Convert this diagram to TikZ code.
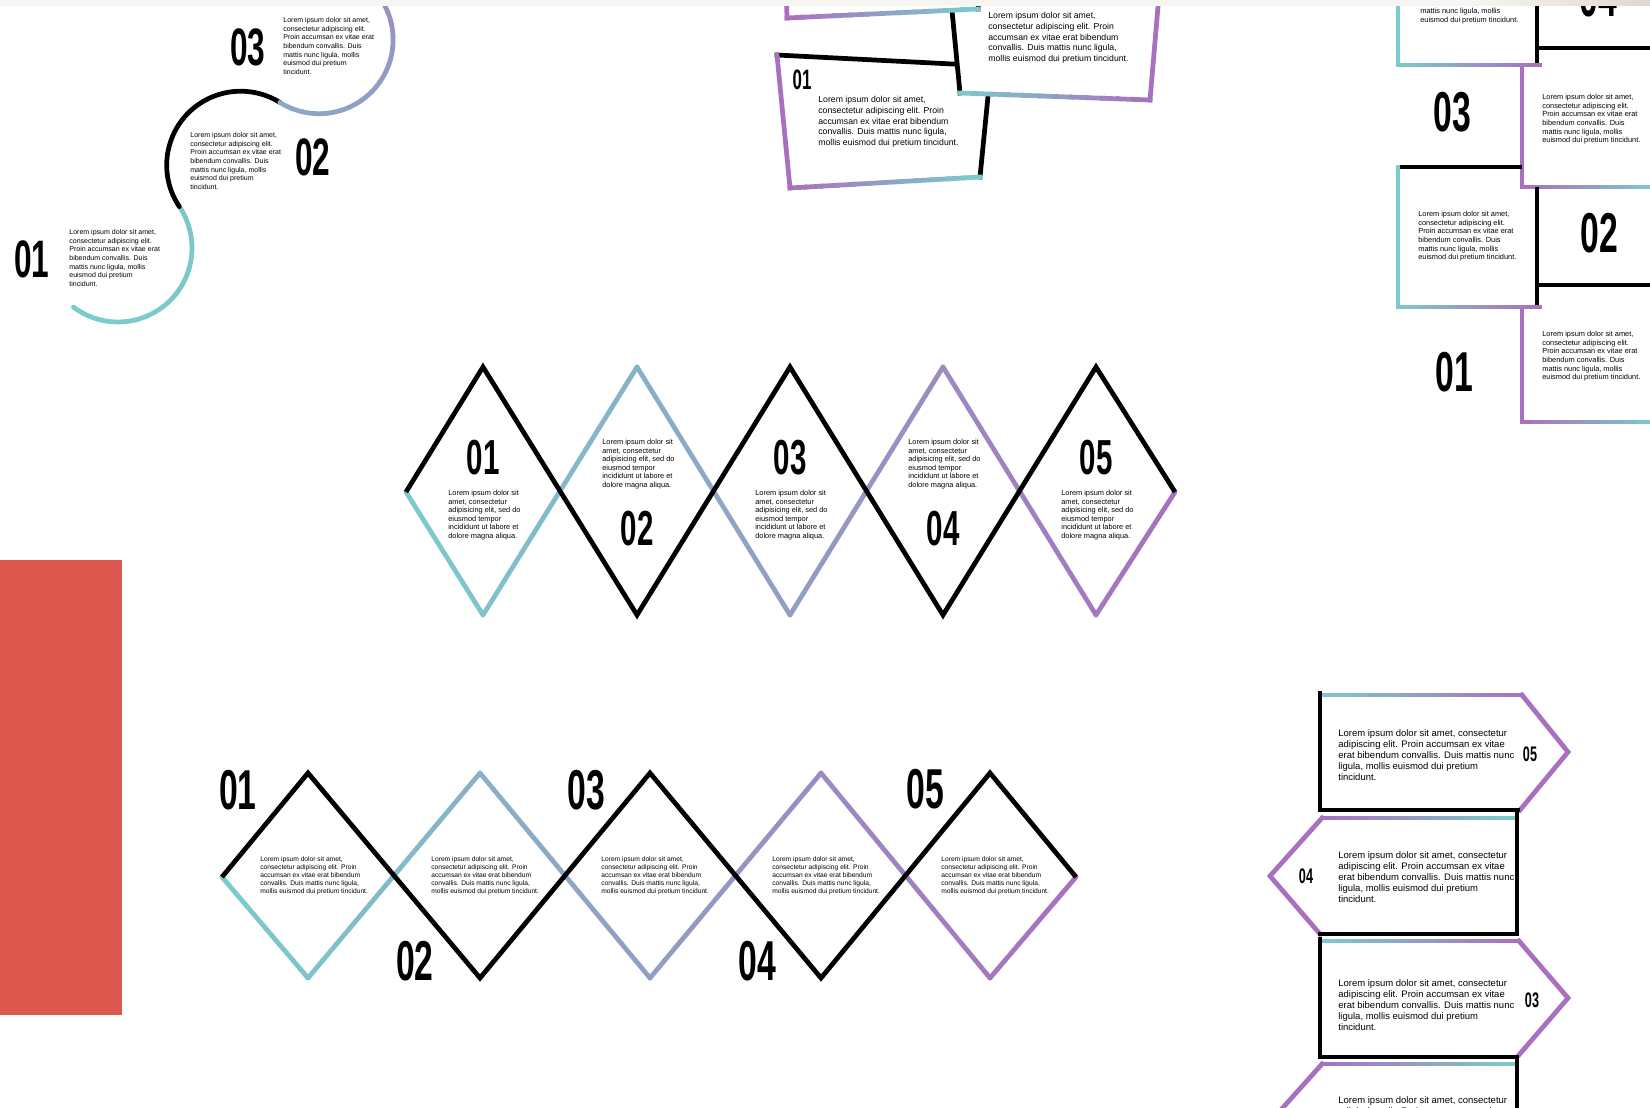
\documentclass[tikz,border=0pt]{standalone}
\usepackage{fontspec}
\setmainfont{Liberation Sans}
\newfontfamily\numfont{Liberation Sans}[FakeStretch=0.6]
\usepackage{tikz}
\definecolor{tealc}{RGB}{122,205,204}
\definecolor{purplec}{RGB}{168,112,190}
\definecolor{redblock}{RGB}{220,88,78}
\definecolor{topband}{RGB}{247,245,241}
\definecolor{taupe}{RGB}{224,216,204}
\tikzset{
  blackpen/.style={line width=2.7pt, black, line join=miter},
  boxpen/.style={line width=2.7pt, black, line cap=rect, line join=miter},
  gradpen/.style={line width=2.7pt, line cap=rect},
  num/.style={font=\numfont\bfseries\fontsize{#1pt}{#1pt}\selectfont, inner sep=0pt},
  lorem/.style={inner sep=0pt, align=left, anchor=north west},
  arctext/.style={lorem, font=\fontsize{4}{4.95}\selectfont},
  midtext/.style={lorem, font=\fontsize{4.2}{4.85}\selectfont},
  lowtext/.style={lorem, font=\fontsize{3.8}{4.55}\selectfont},
  cardtext/.style={lorem, font=\fontsize{4.95}{6.1}\selectfont},
  stacktext/.style={lorem, font=\fontsize{4.2}{4.9}\selectfont},
  arrowtext/.style={lorem, font=\fontsize{5.4}{6.3}\selectfont}
}
% straight stroke, teal share #6 -> #7
\newcommand\gradline[7][]{%
  \foreach \i in {1,...,12}{
    \pgfmathsetmacro\ta{(\i-1)/12}
    \pgfmathsetmacro\tb{\i/12}
    \pgfmathtruncatemacro\pc{#6+(#7-#6)*(\i-0.5)/12}
    \draw[gradpen,#1,draw=tealc!\pc!purplec]
      ({#2+(#4-#2)*\ta},{#3+(#5-#3)*\ta}) -- ({#2+(#4-#2)*\tb},{#3+(#5-#3)*\tb});
  }}
% arc stroke around (#2,#3), radius #4, angles #5 -> #6, teal share #7 -> #8
\newcommand\gradarc[8][]{%
  \foreach \i in {1,...,16}{
    \pgfmathsetmacro\aa{#5+(#6-#5)*(\i-1)/16}
    \pgfmathsetmacro\ab{#5+(#6-#5)*\i/16}
    \pgfmathtruncatemacro\pc{#7+(#8-#7)*(\i-0.5)/16}
    \draw[gradpen,#1,draw=tealc!\pc!purplec]
      ({#2+#4*cos(\aa)},{#3+#4*sin(\aa)}) arc[start angle=\aa, end angle=\ab, radius=#4];
  }}
\newcommand\txtarc{Lorem ipsum dolor sit amet,\\consectetur adipiscing elit.\\Proin accumsan ex vitae erat\\bibendum convallis. Duis\\mattis nunc ligula, mollis\\euismod dui pretium\\tincidunt.}
\newcommand\txtmid{Lorem ipsum dolor sit\\amet, consectetur\\adipisicing elit, sed do\\eiusmod tempor\\incididunt ut labore et\\dolore magna aliqua.}
\newcommand\txtwide{Lorem ipsum dolor sit amet,\\consectetur adipiscing elit. Proin\\accumsan ex vitae erat bibendum\\convallis. Duis mattis nunc ligula,\\mollis euismod dui pretium tincidunt.}
\newcommand\txtstack{Lorem ipsum dolor sit amet,\\consectetur adipiscing elit.\\Proin accumsan ex vitae erat\\bibendum convallis. Duis\\mattis nunc ligula, mollis\\euismod dui pretium tincidunt.}
\newcommand\txtarrow{Lorem ipsum dolor sit amet, consectetur\\adipiscing elit. Proin accumsan ex vitae\\erat bibendum convallis. Duis mattis nunc\\ligula, mollis euismod dui pretium\\tincidunt.}
\begin{document}
\begin{tikzpicture}[x=0.02cm, y=-0.02cm]
\useasboundingbox (0,0) rectangle (1650,1108);
\clip (0,0) rectangle (1650,1108);
\fill[white] (0,0) rectangle (1650,1108);
\fill[redblock] (0,560) rectangle (122,1015);

% S-curve
\gradarc[line cap=round]{118}{248}{74}{127}{-34}{100}{94}
\draw[blackpen, line cap=round] ({240.7+74*cos(146)},{165.2+74*sin(146)}) arc[start angle=146, end angle=302, radius=74];
\gradarc[line cap=round]{319.1}{39.7}{74}{122}{-32}{62}{36}
\node[num=30] (arcnum1) at (32,259) {01};
\node[num=30] (arcnum2) at (313,157) {02};
\node[num=30] (arcnum3) at (248,47) {03};
\node[arctext] (arctxt1) at (69,229) {\txtarc};
\node[arctext] (arctxt2) at (190,132) {\txtarc};
\node[arctext] (arctxt3) at (283,17) {\txtarc};

% tilted cards
\fill[white] (777,55) -- (991,66) -- (980,177) -- (790,188) -- cycle;
\draw[boxpen] (777,55) -- (991,66) -- (980,177);
\gradline{790}{188}{980}{177}{0}{100}
\draw[boxpen, purplec] (777,55) -- (790,188);
\node[num=16] (cardnum1) at (802,80) {01};
\node[cardtext] (cardtxt1) at (818,96) {\txtwide};
\fill[white] (950,-10) -- (1159,-5) -- (1150,100) -- (960,93) -- cycle;
\draw[boxpen] (1159,-5) -- (950,-10) -- (960,93);
\gradline{960}{93}{1150}{100}{100}{0}
\draw[boxpen, purplec] (1159,-5) -- (1150,100);
\node[num=16] (cardnum2) at (1133,-4) {02};
\node[cardtext] (cardtxt2) at (988,12) {\txtwide};
\fill[white] (785,-60) -- (982,-60) -- (978,9) -- (787,18) -- cycle;
\draw[boxpen] (982,-60) -- (978,9);
\gradline{787}{18}{978}{9}{0}{100}
\draw[boxpen, purplec] (785,-60) -- (787,18);

% stacked cells
\draw[boxpen, tealc] (1398,-5) -- (1398,65);
\draw[boxpen] (1537,-5) -- (1537,65);
\draw[boxpen] (1537,48) -- (1660,48);
\draw[boxpen, purplec] (1522,65) -- (1522,187);
\gradline{1398}{65}{1540}{65}{100}{0}
\gradline{1522}{187}{1660}{187}{0}{100}
\draw[boxpen] (1398,167) -- (1520,167);
\draw[boxpen, tealc] (1398,167) -- (1398,307);
\draw[boxpen] (1537,189) -- (1537,307);
\draw[boxpen] (1537,285) -- (1660,285);
\draw[boxpen, purplec] (1522,307) -- (1522,422);
\gradline{1398}{307}{1540}{307}{100}{0}
\gradline{1522}{422}{1660}{422}{0}{100}
\node[stacktext, anchor=south west] (stacktxt4) at (1420,24) {\txtstack};
\node[num=32] (stacknum4) at (1598,-3) {04};
\node[num=32] (stacknum3) at (1452,112) {03};
\node[stacktext] (stacktxt3) at (1542,94) {\txtstack};
\node[stacktext] (stacktxt2) at (1418,211) {\txtstack};
\node[num=32] (stacknum2) at (1599,233) {02};
\node[stacktext] (stacktxt1) at (1542,331) {\txtstack};
\node[num=32] (stacknum1) at (1454,372) {01};

% tall diamonds
\gradline[line cap=round]{406}{492}{483}{615}{100}{90}
\gradline[line cap=round]{483}{615}{637}{367}{90}{70}
\gradline[line cap=round]{637}{367}{790}{615}{70}{50}
\gradline[line cap=round]{790}{615}{943}{367}{50}{30}
\gradline[line cap=round]{943}{367}{1096}{615}{30}{10}
\gradline[line cap=round]{1096}{615}{1175}{492}{10}{0}
\draw[blackpen] (406,492) -- (483,367) -- (637,615) -- (790,367) -- (943,615) -- (1096,367) -- (1175,492);
\node[num=28] (tallnum1) at (483,458) {01};
\node[num=28] (tallnum2) at (637,529) {02};
\node[num=28] (tallnum3) at (790,458) {03};
\node[num=28] (tallnum4) at (943,529) {04};
\node[num=28] (tallnum5) at (1096,458) {05};
\node[midtext] (talltxt1) at (448,490) {\txtmid};
\node[midtext] (talltxt2) at (602,439) {\txtmid};
\node[midtext] (talltxt3) at (755,490) {\txtmid};
\node[midtext] (talltxt4) at (908,439) {\txtmid};
\node[midtext] (talltxt5) at (1061,490) {\txtmid};

% wide diamonds
\gradline[line cap=round]{222}{877}{308}{978}{100}{90}
\gradline[line cap=round]{308}{978}{480}{773}{90}{70}
\gradline[line cap=round]{480}{773}{650}{978}{70}{50}
\gradline[line cap=round]{650}{978}{821}{773}{50}{30}
\gradline[line cap=round]{821}{773}{990}{978}{30}{10}
\gradline[line cap=round]{990}{978}{1076}{877}{10}{0}
\draw[blackpen] (222,877) -- (308,773) -- (480,978) -- (650,773) -- (821,978) -- (990,773) -- (1076,877);
\node[num=32] (widenum1) at (238,790) {01};
\node[num=32] (widenum2) at (415,961) {02};
\node[num=32] (widenum3) at (586,790) {03};
\node[num=32] (widenum4) at (757,961) {04};
\node[num=32] (widenum5) at (925,789) {05};
\node[lowtext] (widetxt1) at (260,856) {\txtwide};
\node[lowtext] (widetxt2) at (431,856) {\txtwide};
\node[lowtext] (widetxt3) at (601,856) {\txtwide};
\node[lowtext] (widetxt4) at (772,856) {\txtwide};
\node[lowtext] (widetxt5) at (941,856) {\txtwide};

% arrow cards
\gradline{1320}{695}{1522}{695}{100}{0}
\draw[gradpen, purplec, line join=miter] (1522,695) -- (1568,752) -- (1520,810);
\draw[boxpen] (1320,693) -- (1320,810) -- (1518,810);
\gradline{1322}{818}{1517}{818}{0}{100}
\draw[gradpen, purplec, line join=miter] (1322,818) -- (1270,876) -- (1320,934);
\draw[boxpen] (1517,813) -- (1517,934) -- (1320,934);
\gradline{1322}{941}{1519}{941}{100}{0}
\draw[gradpen, purplec, line join=miter] (1519,941) -- (1568,998) -- (1518,1056);
\draw[boxpen] (1320,939) -- (1320,1057) -- (1517,1057);
\gradline{1322}{1064}{1517}{1064}{0}{100}
\draw[gradpen, purplec] (1322,1064) -- (1270,1122);
\draw[boxpen] (1517,1061) -- (1517,1125);
\node[arrowtext] (arrowtxt5) at (1338,729) {\txtarrow};
\node[num=12] (arrownum5) at (1530,754) {05};
\node[arrowtext] (arrowtxt4) at (1338,851) {\txtarrow};
\node[num=12] (arrownum4) at (1306,876) {04};
\node[arrowtext] (arrowtxt3) at (1338,979) {\txtarrow};
\node[num=12] (arrownum3) at (1532,1000) {03};
\node[arrowtext] (arrowtxt2) at (1338,1096) {\txtarrow};

% top band
\fill[topband] (0,0) rectangle (1650,6);
\shade[left color=topband, right color=taupe] (1470,0) rectangle (1650,6);
\end{tikzpicture}
\end{document}
